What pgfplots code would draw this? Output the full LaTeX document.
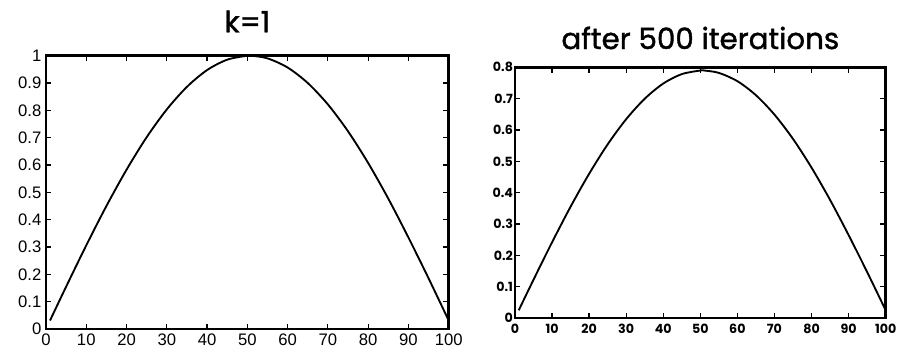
\documentclass[border=0pt]{standalone}
\usepackage{pgfplots}
\pgfplotsset{compat=1.18}
\usepackage{fontspec}
\setmainfont{Liberation Sans}
\newfontfamily\geo{Poppins}
\newfontfamily\geot[FakeBold=1.3]{Poppins}
\begin{document}
\begin{tikzpicture}
\path[use as bounding box] (0,0) rectangle (681.75pt,264.75pt);
\begin{axis}[
  at={(34.5pt,18pt)}, anchor=south west,
  width=302pt, height=205pt, scale only axis,
  xmin=0, xmax=100, ymin=0, ymax=1,
  xtick={0,10,...,100}, ytick={0,0.1,...,1},
  tick align=inside, major tick length=4pt,
  axis line style={line width=1.8pt},
  tick style={line width=0.9pt, black},
  ticklabel style={font=\fontsize{12.5}{12.5}\selectfont},
  /pgf/number format/assume math mode=true,
  yticklabel style={/pgf/number format/fixed},
  title={\geot\fontsize{22}{22}\selectfont k=1},
  title style={yshift=8pt},
]
\addplot[black, line width=1.4pt, smooth] coordinates {
(1,0.0311) (5,0.1549) (10,0.3060) (15,0.4499) (20,0.5827) (25,0.7017)
(30,0.8034) (35,0.8859) (40,0.9473) (45,0.9853) (50,0.9999) (51,0.9999)
(55,0.9902) (60,0.9567) (65,0.9000) (70,0.8217) (75,0.7234) (80,0.6075)
(85,0.4771) (90,0.3349) (95,0.1857) (100,0.0311)};
\end{axis}
\begin{axis}[
  at={(386.25pt,26.25pt)}, anchor=south west,
  width=278pt, height=188pt, scale only axis,
  xmin=0, xmax=100, ymin=0, ymax=0.8,
  xtick={0,10,...,100}, ytick={0,0.1,...,0.8},
  tick align=inside, major tick length=4pt,
  axis line style={line width=1.9pt},
  tick style={line width=1pt, black},
  ticklabel style={font=\geo\bfseries\fontsize{9.5}{9.5}\selectfont},
  /pgf/number format/assume math mode=true,
  yticklabel style={/pgf/number format/fixed, xshift=2pt},
  xticklabel style={yshift=-1pt},
  title={\geot\fontsize{22}{22}\selectfont after 500 iterations},
  title style={yshift=4pt},
]
\addplot[black, line width=1.4pt, smooth] coordinates {
(1,0.0246) (5,0.1224) (10,0.2417) (15,0.3554) (20,0.4603) (25,0.5543)
(30,0.6347) (35,0.6999) (40,0.7484) (45,0.7784) (50,0.7899) (51,0.7899)
(55,0.7823) (60,0.7558) (65,0.7110) (70,0.6491) (75,0.5715) (80,0.4799)
(85,0.3769) (90,0.2646) (95,0.1467) (100,0.0246)};
\end{axis}
\end{tikzpicture}
\end{document}
